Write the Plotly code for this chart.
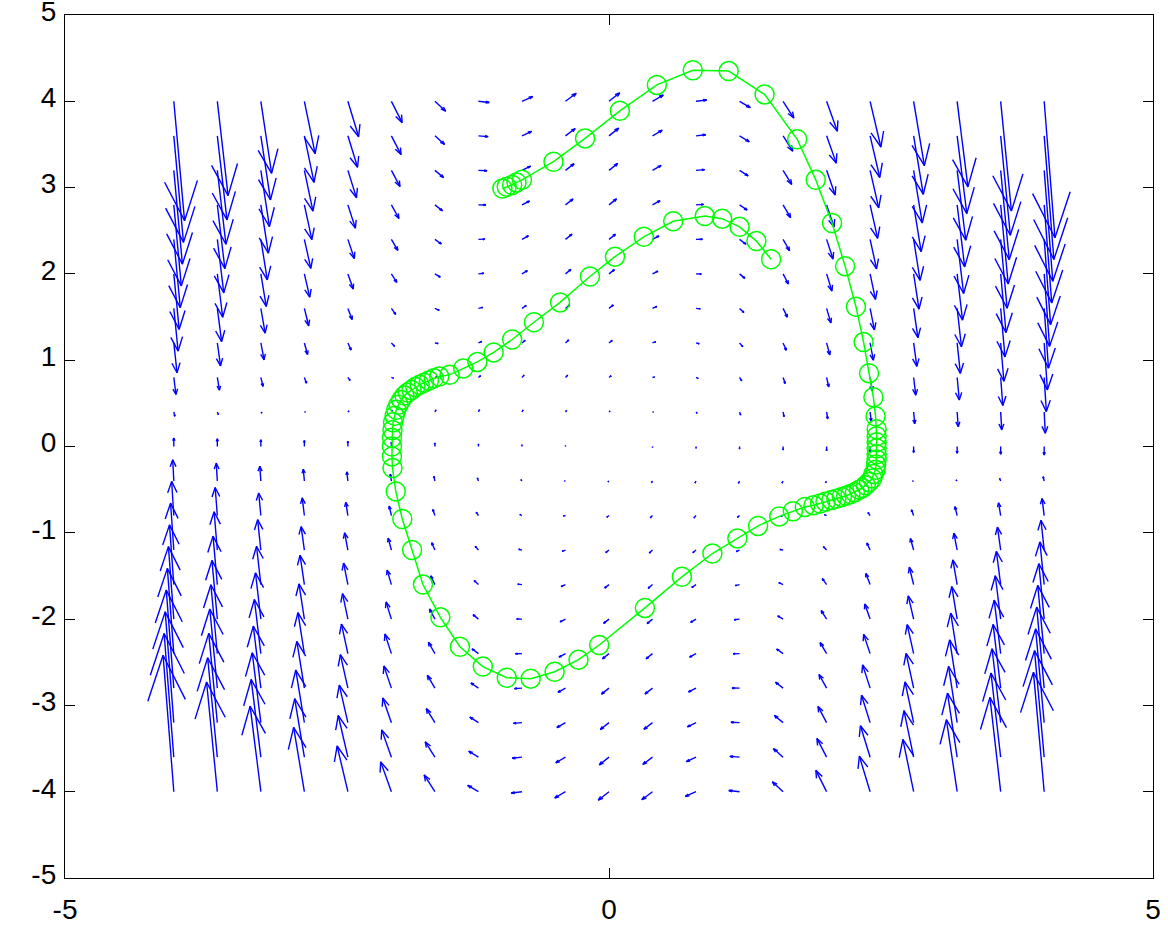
import plotly.graph_objects as go
import plotly.figure_factory as ff

# ---- data -------------------------------------------------------------
grid_x = [-4.0, -3.6, -3.2, -2.8, -2.4, -2.0, -1.6, -1.2, -0.8, -0.4, 0.0,
          0.4, 0.8, 1.2, 1.6, 2.0, 2.4, 2.8, 3.2, 3.6, 4.0]
grid_y = [-4.0, -3.6, -3.2, -2.8, -2.4, -2.0, -1.6, -1.2, -0.8, -0.4, 0.0,
          0.4, 0.8, 1.2, 1.6, 2.0, 2.4, 2.8, 3.2, 3.6, 4.0]

# horizontal component of the field, one value per row (same along a row)
u_row = [-4.0, -3.6, -3.2, -2.8, -2.4, -2.0, -1.6, -1.2, -0.8, -0.4, 0.0,
         0.4, 0.8, 1.2, 1.6, 2.0, 2.4, 2.8, 3.2, 3.6, 4.0]

# vertical component of the field, rows = grid_y, columns = grid_x
v_field = [
    [64, 51.44, 40.16, 30.16, 21.44, 14, 7.84, 2.96, -0.64, -2.96, -4, -3.76, -2.24, 0.56, 4.64, 10, 16.64, 24.56, 33.76, 44.24, 56],
    [58, 46.66, 36.46, 27.42, 19.54, 12.8, 7.22, 2.78, -0.5, -2.62, -3.6, -3.42, -2.1, 0.38, 4.02, 8.8, 14.74, 21.82, 30.06, 39.46, 50],
    [52, 41.87, 32.77, 24.69, 17.63, 11.6, 6.59, 2.61, -0.35, -2.29, -3.2, -3.09, -1.95, 0.21, 3.39, 7.6, 12.83, 19.09, 26.37, 34.67, 44],
    [46, 37.09, 29.07, 21.95, 15.73, 10.4, 5.97, 2.43, -0.21, -1.95, -2.8, -2.75, -1.81, 0.03, 2.77, 6.4, 10.93, 16.35, 22.67, 29.89, 38],
    [40, 32.3, 25.38, 19.22, 13.82, 9.2, 5.34, 2.26, -0.06, -1.62, -2.4, -2.42, -1.66, -0.14, 2.14, 5.2, 9.02, 13.62, 18.98, 25.1, 32],
    [34, 27.52, 21.68, 16.48, 11.92, 8, 4.72, 2.08, 0.08, -1.28, -2, -2.08, -1.52, -0.32, 1.52, 4, 7.12, 10.88, 15.28, 20.32, 26],
    [28, 22.74, 17.98, 13.74, 10.02, 6.8, 4.1, 1.9, 0.22, -0.94, -1.6, -1.74, -1.38, -0.5, 0.9, 2.8, 5.22, 8.14, 11.58, 15.54, 20],
    [22, 17.95, 14.29, 11.01, 8.11, 5.6, 3.47, 1.73, 0.37, -0.61, -1.2, -1.41, -1.23, -0.67, 0.27, 1.6, 3.31, 5.41, 7.89, 10.75, 14],
    [16, 13.17, 10.59, 8.27, 6.21, 4.4, 2.85, 1.55, 0.51, -0.27, -0.8, -1.07, -1.09, -0.85, -0.35, 0.4, 1.41, 2.67, 4.19, 5.97, 8],
    [10, 8.38, 6.9, 5.54, 4.3, 3.2, 2.22, 1.38, 0.66, 0.06, -0.4, -0.74, -0.94, -1.02, -0.98, -0.8, -0.5, -0.06, 0.5, 1.18, 2],
    [4, 3.6, 3.2, 2.8, 2.4, 2, 1.6, 1.2, 0.8, 0.4, 0, -0.4, -0.8, -1.2, -1.6, -2, -2.4, -2.8, -3.2, -3.6, -4],
    [-2, -1.18, -0.5, 0.06, 0.5, 0.8, 0.98, 1.02, 0.94, 0.74, 0.4, -0.06, -0.66, -1.38, -2.22, -3.2, -4.3, -5.54, -6.9, -8.38, -10],
    [-8, -5.97, -4.19, -2.67, -1.41, -0.4, 0.35, 0.85, 1.09, 1.07, 0.8, 0.27, -0.51, -1.55, -2.85, -4.4, -6.21, -8.27, -10.59, -13.17, -16],
    [-14, -10.75, -7.89, -5.41, -3.31, -1.6, -0.27, 0.67, 1.23, 1.41, 1.2, 0.61, -0.37, -1.73, -3.47, -5.6, -8.11, -11.01, -14.29, -17.95, -22],
    [-20, -15.54, -11.58, -8.14, -5.22, -2.8, -0.9, 0.5, 1.38, 1.74, 1.6, 0.94, -0.22, -1.9, -4.1, -6.8, -10.02, -13.74, -17.98, -22.74, -28],
    [-26, -20.32, -15.28, -10.88, -7.12, -4, -1.52, 0.32, 1.52, 2.08, 2, 1.28, -0.08, -2.08, -4.72, -8, -11.92, -16.48, -21.68, -27.52, -34],
    [-32, -25.1, -18.98, -13.62, -9.02, -5.2, -2.14, 0.14, 1.66, 2.42, 2.4, 1.62, 0.06, -2.26, -5.34, -9.2, -13.82, -19.22, -25.38, -32.3, -40],
    [-38, -29.89, -22.67, -16.35, -10.93, -6.4, -2.77, -0.03, 1.81, 2.75, 2.8, 1.95, 0.21, -2.43, -5.97, -10.4, -15.73, -21.95, -29.07, -37.09, -46],
    [-44, -34.67, -26.37, -19.09, -12.83, -7.6, -3.39, -0.21, 1.95, 3.09, 3.2, 2.29, 0.35, -2.61, -6.59, -11.6, -17.63, -24.69, -32.77, -41.87, -52],
    [-50, -39.46, -30.06, -21.82, -14.74, -8.8, -4.02, -0.38, 2.1, 3.42, 3.6, 2.62, 0.5, -2.78, -7.22, -12.8, -19.54, -27.42, -36.46, -46.66, -58],
    [-56, -44.24, -33.76, -24.56, -16.64, -10, -4.64, -0.56, 2.24, 3.76, 4, 2.96, 0.64, -2.96, -7.84, -14, -21.44, -30.16, -40.16, -51.44, -64],
]

# trajectory
traj_x = [-0.98, -0.94, -0.89, -0.85, -0.80, -0.51, -0.22, 0.10, 0.44, 0.77,
          1.10, 1.43, 1.73, 1.90, 2.05, 2.17, 2.27, 2.34, 2.39, 2.43,
          2.45, 2.46, 2.46, 2.46, 2.46, 2.46, 2.46, 2.455, 2.45, 2.43,
          2.42, 2.39, 2.36, 2.33, 2.30, 2.26, 2.22, 2.18, 2.14, 2.09,
          2.045, 1.99, 1.94, 1.88, 1.80, 1.69, 1.565, 1.37, 1.18, 0.95,
          0.67, 0.33, -0.09, -0.28, -0.50, -0.72, -0.94, -1.16, -1.37, -1.55,
          -1.71, -1.81, -1.90, -1.96, -1.99, -1.995, -1.995, -1.995, -1.99, -1.985,
          -1.97, -1.955, -1.935, -1.91, -1.88, -1.85, -1.815, -1.78, -1.74, -1.70,
          -1.655, -1.61, -1.56, -1.465, -1.34, -1.21, -1.06, -0.89, -0.69, -0.45,
          -0.175, 0.055, 0.32, 0.59, 0.88, 1.04, 1.20, 1.355, 1.49]
traj_y = [2.99, 3.01, 3.03, 3.06, 3.09, 3.30, 3.57, 3.89, 4.19, 4.36,
          4.35, 4.08, 3.56, 3.09, 2.59, 2.09, 1.62, 1.21, 0.85, 0.57,
          0.35, 0.20, 0.12, 0.05, -0.02, -0.09, -0.15, -0.21, -0.27, -0.32,
          -0.37, -0.41, -0.45, -0.48, -0.50, -0.53, -0.55, -0.57, -0.585, -0.605,
          -0.62, -0.64, -0.66, -0.68, -0.70, -0.75, -0.81, -0.92, -1.065, -1.24,
          -1.51, -1.87, -2.30, -2.47, -2.61, -2.69, -2.68, -2.55, -2.32, -1.98,
          -1.60, -1.20, -0.84, -0.52, -0.25, -0.115, 0.0, 0.10, 0.19, 0.28,
          0.355, 0.425, 0.485, 0.54, 0.59, 0.625, 0.655, 0.69, 0.715, 0.74,
          0.765, 0.79, 0.81, 0.83, 0.905, 0.98, 1.09, 1.24, 1.44, 1.67,
          1.97, 2.20, 2.43, 2.61, 2.67, 2.64, 2.545, 2.38, 2.17]

tick_vals_x = [-5, 0, 5]
tick_text_x = ["-5", "0", "5"]
tick_vals_y = [-5, -4, -3, -2, -1, 0, 1, 2, 3, 4, 5]
tick_text_y = ["-5", "-4", "-3", "-2", "-1", "0", "1", "2", "3", "4", "5"]

# ---- figure -----------------------------------------------------------
qx, qy, qu, qv = [], [], [], []
for r, yy in enumerate(grid_y):
    for c, xx in enumerate(grid_x):
        qx.append(xx)
        qy.append(yy)
        qu.append(u_row[r])
        qv.append(v_field[r][c])

fig = ff.create_quiver(qx, qy, qu, qv, scale=0.0247, arrow_scale=0.3475,
                       angle=0.3195,
                       line=dict(color="#0000ff", width=1.4),
                       showlegend=False, hoverinfo="skip")

fig.add_trace(go.Scatter(
    x=traj_x, y=traj_y, mode="lines+markers",
    line=dict(color="#00ff00", width=1.5),
    marker=dict(symbol="circle-open", size=19, color="#00ff00",
                line=dict(color="#00ff00", width=1.5)),
    showlegend=False, hoverinfo="skip"))

axis_common = dict(
    showline=True, linecolor="black", linewidth=1.3, mirror="ticks",
    ticks="inside", ticklen=10, tickwidth=1.3, tickcolor="black",
    showgrid=False, zeroline=False, automargin=False,
    ticklabeloverflow="allow",
    tickfont=dict(family="Liberation Sans, Arial, sans-serif",
                  size=28, color="black"),
)

fig.update_layout(
    width=1168, height=926,
    margin=dict(l=65, r=15, t=15, b=48),
    paper_bgcolor="white", plot_bgcolor="white",
    showlegend=False,
    xaxis=dict(range=[-5.0001, 5.0001], tickvals=tick_vals_x, ticktext=tick_text_x,
               ticklabelstandoff=6, **axis_common),
    yaxis=dict(range=[-5.0001, 5.0001], tickvals=tick_vals_y, ticktext=tick_text_y,
               ticklabelstandoff=2, ticklabelshift=-4, **axis_common),
)

fig.write_html("out.html", config={"displayModeBar": False},
               post_script="document.body.style.margin='0';"
                           "document.body.style.overflow='hidden';")
